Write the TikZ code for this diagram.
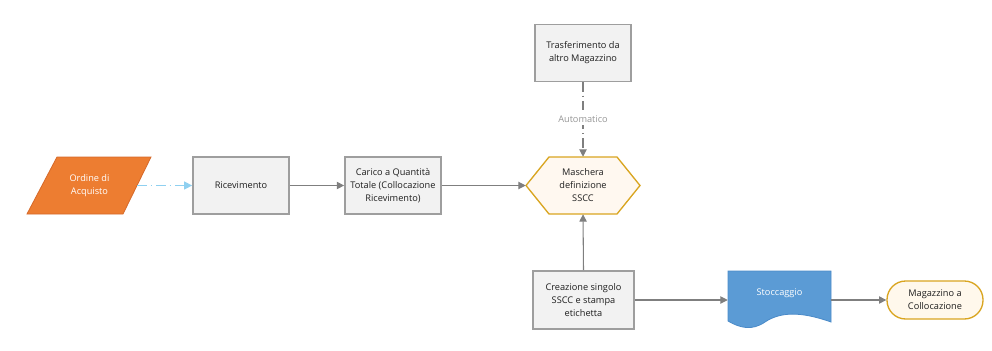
\documentclass[tikz,border=0pt]{standalone}
\usepackage{fontspec}
\setmainfont{Open Sans}
\usetikzlibrary{arrows.meta}
\definecolor{boxfill}{HTML}{F2F2F2}
\definecolor{boxline}{HTML}{9E9E9E}
\definecolor{conn}{HTML}{7F7F7F}
\definecolor{txt}{HTML}{1F1F1F}
\definecolor{orangef}{HTML}{ED7D31}
\definecolor{orangel}{HTML}{D5692A}
\definecolor{hexfill}{HTML}{FFF8F0}
\definecolor{gold}{HTML}{D9A520}
\definecolor{creamfill}{HTML}{FFF8EC}
\definecolor{bluef}{HTML}{5B9BD5}
\definecolor{bluel}{HTML}{4A8AC8}
\definecolor{lightblue}{HTML}{8FD0F0}
\begin{document}
\begin{tikzpicture}[x=0.75pt,y=-0.75pt,
  every node/.style={font=\fontsize{6.9pt}{9.75pt}\selectfont, text=txt, align=center, inner sep=0pt},
  procbox/.style={draw=boxline, fill=boxfill, line width=1.3pt, minimum width=72pt, minimum height=42.75pt},
  ghost/.style={minimum width=#1, minimum height=42.75pt},
  conline/.style={draw=conn, line width=0.8pt, -{Triangle[width=5.5pt,length=5.5pt]}},
]
\useasboundingbox (0,0) rectangle (992,350);
% Ordine di Acquisto parallelogram
\fill[orangef] (57,157) -- (151,157) -- (123,214) -- (27,214) -- cycle;
\draw[orangel, line width=0.6pt] (57,157) -- (151,157) -- (123,214) -- (27,214) -- cycle;
\node[ghost=71.25pt, text=white] (ord) at (89.5,185.5) {Ordine di\\Acquisto};
% process boxes
\node[procbox] (ric) at (241,185.5) {Ricevimento};
\node[procbox] (car) at (393,185.5) {Carico a Quantità\\Totale (Collocazione\\Ricevimento)};
\node[procbox] (tra) at (583,53) {Trasferimento da\\altro Magazzino};
\node[procbox, minimum width=75.75pt, minimum height=43.5pt] (cre) at (583.5,300) {Creazione singolo\\SSCC e stampa\\etichetta};
% hexagon
\draw[gold, fill=hexfill, line width=1pt] (526,185.5) -- (549,157) -- (617,157) -- (640,185.5) -- (617,214) -- (549,214) -- cycle;
\node[ghost=85.5pt] (hex) at (583,185.5) {Maschera\\definizione\\SSCC};
% document shape
\draw[bluel, fill=bluef, line width=0.6pt] (728,271) -- (831,271) -- (831,322) .. controls (800,311) and (780,312) .. (765,322) .. controls (752,331) and (740,328) .. (728,321) -- cycle;
\node[minimum width=77.25pt, minimum height=38.25pt] (sto) at (779.5,300) {};
\node[text=white] at (779.5,293) {Stoccaggio};
% terminal
\node[draw=gold, fill=creamfill, line width=1pt, rounded corners=14pt, minimum width=72pt, minimum height=28.5pt] (mag) at (935,300) {Magazzino a\\Collocazione};
% connectors
\draw[draw=lightblue, line width=1pt, dash pattern=on 7pt off 3pt on 1.2pt off 3pt, -{Triangle[width=6pt,length=6pt,fill=lightblue]}] (ord.east) -- (ric.west);
\draw[conline] (ric.east) -- (car.west);
\draw[conline] (car.east) -- (hex.west);
\draw[draw=conn, line width=0.8pt, dash pattern=on 7pt off 3pt on 1pt off 3pt, -{Triangle[width=5.5pt,length=5.5pt]}] (tra.south) -- node[fill=white, text=conn!80, inner sep=1.5pt] {Automatico} (hex.north);
\draw[conline] (cre.north) -- (hex.south);
\draw[conline] (cre.east) -- (sto.west);
\draw[conline] (sto.east) -- (mag.west);
\end{tikzpicture}
\end{document}
